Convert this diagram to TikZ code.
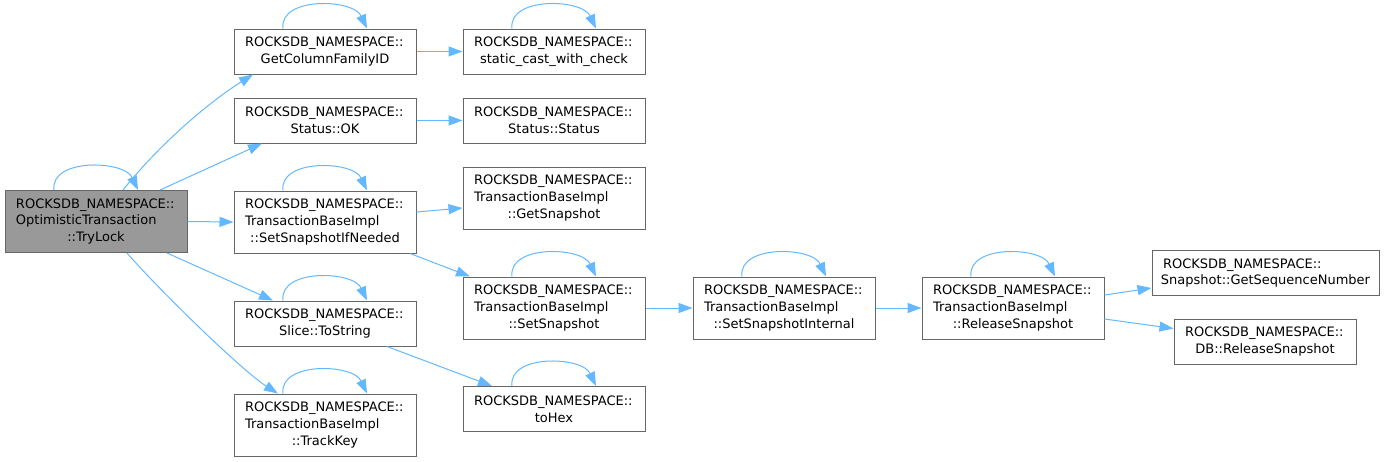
\documentclass[tikz,border=0pt]{standalone}
\usepackage{fontspec}
\setmainfont{DejaVu Sans}
\usetikzlibrary{arrows.meta,positioning}
\definecolor{edgeblue}{HTML}{63B8FF}
\definecolor{boxgray}{HTML}{666666}
\definecolor{rootgray}{HTML}{999999}
\newcommand{\lastline}[1]{\makebox[\linewidth]{#1}}
\tikzset{
  every node/.style={
    font=\fontsize{13}{16.7}\selectfont
  },
  func/.style={
    shape=rectangle,
    draw=boxgray,
    line width=1pt,
    inner xsep=11pt,
    inner ysep=0pt,
    text width=160pt,
    align=left,
    minimum height=45pt
  },
  func3/.style={
    func,
    minimum height=62pt
  },
  root/.style={
    func3,
    fill=rootgray
  },
  call/.style={
    draw=edgeblue,
    line width=1pt,
    -{Triangle[length=14pt,width=10pt]}
  }
}

\begin{document}
\begin{tikzpicture}[x=1pt,y=-1pt]
    \useasboundingbox (0,0) rectangle (1385,461);
    % functions
    \node [root] (root) at (96,221.5) {ROCKSDB\_NAMESPACE::\\OptimisticTransaction\\\lastline{::TryLock}};
    \node [func] (gcf) at (325,51.5) {ROCKSDB\_NAMESPACE::\\\lastline{GetColumnFamilyID}};
    \node [func] (scwc) at (554,51.5) {ROCKSDB\_NAMESPACE::\\\lastline{static\_cast\_with\_check}};
    \node [func] (ok) at (325,120.5) {ROCKSDB\_NAMESPACE::\\\lastline{Status::OK}};
    \node [func] (status) at (554,120.5) {ROCKSDB\_NAMESPACE::\\\lastline{Status::Status}};
    \node [func3] (ssin) at (325,222) {ROCKSDB\_NAMESPACE::\\TransactionBaseImpl\\\lastline{::SetSnapshotIfNeeded}};
    \node [func3] (gs) at (554,198) {ROCKSDB\_NAMESPACE::\\TransactionBaseImpl\\\lastline{::GetSnapshot}};
    \node [func3] (ss) at (554,308) {ROCKSDB\_NAMESPACE::\\TransactionBaseImpl\\\lastline{::SetSnapshot}};
    \node [func3] (ssi) at (784,308) {ROCKSDB\_NAMESPACE::\\TransactionBaseImpl\\\lastline{::SetSnapshotInternal}};
    \node [func3] (rs) at (1013,308) {ROCKSDB\_NAMESPACE::\\TransactionBaseImpl\\\lastline{::ReleaseSnapshot}};
    \node [func, text width=205pt] (gsn) at (1265.5,273) {ROCKSDB\_NAMESPACE::\\\lastline{Snapshot::GetSequenceNumber}};
    \node [func] (db) at (1265,341.5) {ROCKSDB\_NAMESPACE::\\\lastline{DB::ReleaseSnapshot}};
    \node [func] (slice) at (325,323.5) {ROCKSDB\_NAMESPACE::\\\lastline{Slice::ToString}};
    \node [func] (tohex) at (554,409) {ROCKSDB\_NAMESPACE::\\\lastline{toHex}};
    \node [func3] (tk) at (325,425) {ROCKSDB\_NAMESPACE::\\TransactionBaseImpl\\\lastline{::TrackKey}};
    % calls
    \draw [call] ([xshift=27pt]root.north) .. controls +(40,-50) and +(-40,25) .. ([xshift=-72pt]gcf.south);
    \draw [call] ([xshift=64pt]root.north) -- ([xshift=-63pt]ok.south);
    \draw [call] (root.east) -- (ssin.west);
    \draw [call] ([xshift=71pt]root.south) -- ([xshift=-52pt]slice.north);
    \draw [call] ([xshift=31pt]root.south) .. controls +(35,40) and +(-35,-22) .. ([xshift=-47pt]tk.north);
    \draw [call] (gcf.east) -- (scwc.west);
    \draw [call] (ok.east) -- (status.west);
    \draw [call] ([yshift=10pt]ssin.east) -- ([yshift=-10pt]gs.west);
    \draw [call] ([xshift=85pt]ssin.south) -- ([xshift=-84pt]ss.north);
    \draw [call] (ss.east) -- (ssi.west);
    \draw [call] (ssi.east) -- (rs.west);
    \draw [call] ([yshift=13pt]rs.east) -- ([yshift=-15pt]gsn.west);
    \draw [call] ([yshift=-11pt]rs.east) -- ([yshift=13pt]db.west);
    \draw [call] ([xshift=62pt]slice.south) -- ([xshift=-62pt]tohex.north);
    % recursive calls
    \foreach \n in {root,gcf,scwc,ssin,ss,ssi,rs,slice,tohex,tk}
      \draw [call] ([xshift=-42pt]\n.north) .. controls +(-4,-32) and +(-14,-30) .. ([xshift=42pt]\n.north);
\end{tikzpicture}
\end{document}
